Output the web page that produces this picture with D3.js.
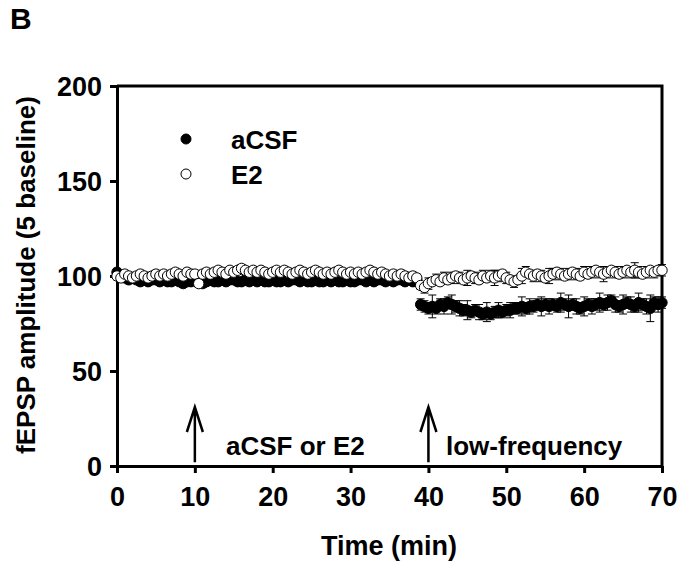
<!DOCTYPE html>
<html>
<head>
<meta charset="utf-8">
<script src="https://cdn.jsdelivr.net/npm/d3@7.9.0/dist/d3.min.js"></script>
<style>
  body { margin: 0; background: #fff; }
  svg text { font-family: "Liberation Sans", Arial, sans-serif; font-weight: bold; fill: #000; }
</style>
</head>
<body>
<svg id="chart" width="684" height="570"></svg>
<script>
// time points, one every 0.5 min from 0 to 70
const times = d3.range(0, 70.01, 0.5);

// aCSF group (filled circles), % of baseline
const acsf = [
  102, 100, 99, 98, 99, 98, 97, 98, 97, 98, 98, 97, 98, 97, 97, 98, 97, 96, 97, 97, 98,
  97, 96, 97, 98, 97, 97, 98, 97, 98, 98, 97, 97, 98, 97, 98, 97, 98, 97, 97, 98,
  97, 97, 98, 97, 98, 98, 97, 98, 97, 97, 98, 97, 97, 98, 97, 98, 97, 97, 98, 97,
  97, 98, 98, 97, 98, 97, 98, 98, 97, 98, 97, 98, 98, 97, 98, 97, 98, 85, 84, 83,
  84, 83, 85, 84, 86, 85, 84, 83, 82, 82, 81, 82, 81, 80, 81, 80, 81, 82, 81, 82,
  82, 83, 83, 84, 83, 84, 84, 85, 84, 85, 84, 85, 84, 86, 85, 84, 85, 84, 83, 84,
  85, 84, 85, 86, 85, 86, 87, 85, 84, 85, 86, 85, 84, 86, 85, 84, 83, 86, 85, 86
];
const acsfSem = [
  2, 2, 2, 2, 2, 2, 2, 2, 2, 2, 2, 2, 2, 2, 2, 2, 2, 2, 2, 2, 2,
  2, 2, 2, 2, 2, 2, 2, 2, 2, 2, 2, 2, 2, 2, 2, 2, 2, 2, 2, 2,
  2, 2, 2, 2, 2, 2, 2, 2, 2, 2, 2, 2, 2, 2, 2, 2, 2, 2, 2, 2,
  2, 2, 2, 2, 2, 2, 2, 2, 2, 2, 2, 2, 2, 2, 2, 2, 2, 3, 3, 3,
  6, 3, 3, 4, 3, 5, 3, 4, 3, 5, 3, 3, 4, 3, 5, 3, 3, 4, 3, 3,
  4, 3, 3, 5, 3, 4, 3, 3, 5, 3, 4, 3, 3, 5, 3, 6, 3, 4, 3, 5,
  3, 4, 3, 5, 3, 4, 3, 4, 3, 5, 3, 4, 3, 5, 3, 4, 7, 3, 4, 3
];

// E2 group (open circles), % of baseline
const e2 = [
  100, 99, 101, 100, 99, 100, 101, 100, 99, 100, 101, 100, 101, 100, 101, 102, 101, 100, 102, 101, 101,
  96, 101, 102, 101, 102, 103, 102, 101, 103, 102, 103, 104, 103, 102, 103, 102, 103, 102, 101, 102,
  103, 102, 103, 102, 101, 102, 103, 102, 101, 102, 103, 102, 101, 102, 101, 102, 103, 102, 101, 102,
  101, 102, 101, 102, 103, 102, 101, 102, 101, 100, 101, 100, 101, 100, 99, 100, 99, 95, 94, 96,
  97, 98, 97, 99, 98, 99, 100, 99, 98, 99, 100, 99, 98, 100, 99, 100, 99, 100, 101, 99,
  98, 97, 98, 100, 102, 101, 100, 101, 100, 99, 100, 101, 102, 101, 100, 101, 102, 101, 100, 102,
  101, 102, 103, 102, 101, 102, 103, 102, 101, 102, 103, 102, 103, 102, 101, 102, 103, 102, 103, 103
];
const e2Sem = [
  2, 2, 2, 2, 2, 2, 2, 2, 2, 2, 2, 2, 2, 2, 2, 2, 2, 2, 2, 2, 2,
  2, 2, 2, 2, 2, 2, 2, 2, 2, 2, 2, 2, 2, 2, 2, 2, 2, 2, 2, 2,
  2, 2, 2, 2, 2, 2, 2, 2, 2, 2, 2, 2, 2, 2, 2, 2, 2, 2, 2, 2,
  2, 2, 2, 2, 2, 2, 2, 2, 2, 2, 2, 2, 2, 2, 2, 2, 2, 2, 3, 3,
  2, 3, 2, 3, 2, 3, 2, 3, 2, 4, 2, 3, 2, 3, 2, 3, 4, 3, 2, 3,
  2, 3, 2, 4, 3, 2, 3, 2, 3, 2, 4, 3, 2, 3, 2, 3, 2, 3, 2, 3,
  2, 3, 2, 3, 4, 3, 2, 3, 2, 3, 2, 3, 4, 3, 2, 3, 2, 3, 2, 3
];

const xTicks = [0, 10, 20, 30, 40, 50, 60, 70];
const yTicks = [0, 50, 100, 150, 200];

const svg = d3.select('#chart');
const x = d3.scaleLinear().domain([0, 70]).range([117, 662]);
const y = d3.scaleLinear().domain([0, 200]).range([466, 86]);

// panel letter
svg.append('text').attr('x', 10).attr('y', 29).style('font-size', '30px').text('B');

// frame (top + right)
svg.append('path')
  .attr('d', `M${x(0)},${y(200)}H${x(70)}V${y(0)}`)
  .attr('fill', 'none').attr('stroke', '#000').attr('stroke-width', 3);

// axes
const xAxis = svg.append('g').attr('transform', `translate(0,${y(0)})`)
  .call(d3.axisBottom(x).tickValues(xTicks).tickSize(7).tickPadding(14).tickSizeOuter(0));
const yAxis = svg.append('g').attr('transform', `translate(${x(0)},0)`)
  .call(d3.axisLeft(y).tickValues(yTicks).tickSize(7).tickPadding(8).tickSizeOuter(0));
[xAxis, yAxis].forEach(g => {
  g.select('.domain').attr('stroke-width', 3).attr('stroke', '#000');
  g.selectAll('.tick line').attr('stroke-width', 3).attr('stroke', '#000');
  g.selectAll('.tick text').style('font-size', '27px').style('font-family', '"Liberation Sans", Arial, sans-serif').style('font-weight', 'bold');
});
yAxis.selectAll('.tick text').attr('dy', '0.36em');

// axis titles
svg.append('text').attr('x', 389).attr('y', 555).attr('text-anchor', 'middle')
  .style('font-size', '27px').text('Time (min)');
svg.append('text').attr('transform', 'translate(35,275) rotate(-90)').attr('text-anchor', 'middle')
  .style('font-size', '26px').text('fEPSP amplitude (5 baseline)');

// series drawing
function drawSeries(vals, sems, fill) {
  const pts = times.map((t, i) => ({ t, v: vals[i], s: sems[i] }));
  const g = svg.append('g');
  const eb = g.append('g').attr('stroke', '#000').attr('stroke-width', 1);
  eb.selectAll('path').data(pts).join('path')
    .attr('fill', 'none')
    .attr('d', d => {
      const cx = x(d.t), y1 = y(d.v + d.s), y2 = y(d.v - d.s);
      return `M${cx},${y1}V${y2}M${cx - 4},${y1}H${cx + 4}M${cx - 4},${y2}H${cx + 4}`;
    });
  g.selectAll('circle').data(pts).join('circle')
    .attr('cx', d => x(d.t)).attr('cy', d => y(d.v)).attr('r', 5.2)
    .attr('fill', fill).attr('stroke', '#000').attr('stroke-width', 1);
}
drawSeries(acsf, acsfSem, '#000');
drawSeries(e2, e2Sem, '#fff');

// legend
const legend = [{ name: 'aCSF', fill: '#000', cy: 139 }, { name: 'E2', fill: '#fff', cy: 174 }];
legend.forEach(l => {
  svg.append('circle').attr('cx', 186).attr('cy', l.cy).attr('r', 5)
    .attr('fill', l.fill).attr('stroke', '#000').attr('stroke-width', 1);
  svg.append('text').attr('x', 231).attr('y', l.cy + 9.5).style('font-size', '26px').text(l.name);
});

// treatment arrows
const arrows = [{ t: 10, label: 'aCSF or E2', lx: 226 }, { t: 40, label: 'low-frequency', lx: 446 }];
arrows.forEach(a => {
  const ax = x(a.t);
  svg.append('path')
    .attr('d', `M${ax},${y(2)}V${407}M${ax - 8},${432}L${ax},${407}L${ax + 8},${432}`)
    .attr('fill', 'none').attr('stroke', '#000').attr('stroke-width', 2.5);
  svg.append('text').attr('x', a.lx).attr('y', 455).style('font-size', '26px').text(a.label);
});
</script>
</body>
</html>
